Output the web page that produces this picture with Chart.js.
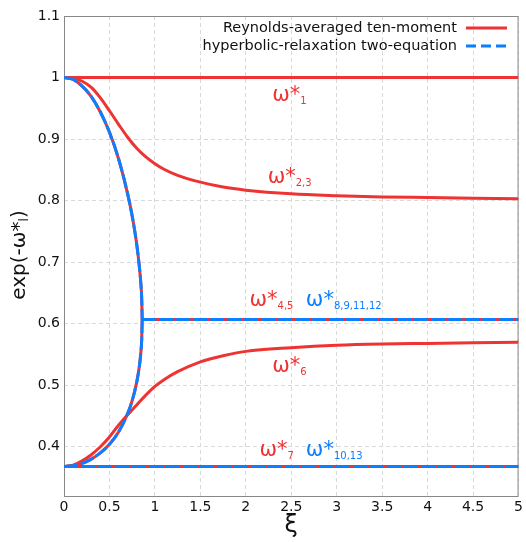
<!DOCTYPE html>
<html>
<head>
<meta charset="utf-8">
<script src="https://cdn.jsdelivr.net/npm/chart.js@4/dist/chart.umd.min.js"></script>
<style>
  html, body { margin: 0; padding: 0; background: #fff; }
  #wrap { width: 526px; height: 542px; }
</style>
</head>
<body>
<div id="wrap"><canvas id="modes" width="526" height="542"></canvas></div>
<script>
// axis ticks
const xTicks = [0, 0.5, 1, 1.5, 2, 2.5, 3, 3.5, 4, 4.5, 5];
const xTickLabels = ['0', '0.5', '1', '1.5', '2', '2.5', '3', '3.5', '4', '4.5', '5'];
const yTicks = [0.4, 0.5, 0.6, 0.7, 0.8, 0.9, 1.0, 1.1];
const yTickLabels = ['0.4', '0.5', '0.6', '0.7', '0.8', '0.9', '1', '1.1'];

// flat modes over the whole range
const xiFull = [0, 5];
const omega1 = [1, 1];
const omega7 = [0.368, 0.368];

// the pair that merges at the branch point
const xiBranch = [0, 0.1, 0.2, 0.3, 0.4, 0.5, 0.6, 0.7, 0.75, 0.8, 0.83, 0.845, 0.855, 0.86];
const upperBranch = [1, 0.997, 0.986, 0.969, 0.944, 0.911, 0.868, 0.811, 0.775, 0.729, 0.691, 0.666, 0.640, 0.607];
const lowerBranch = [0.368, 0.369, 0.373, 0.380, 0.390, 0.404, 0.424, 0.454, 0.475, 0.505, 0.532, 0.553, 0.575, 0.607];

// merged value past the branch point
const xiPlateau = [0.86, 5];
const omega45 = [0.607, 0.607];

// ω*2,3 decays, ω*6 rises
const xiSmooth = [0, 0.1, 0.2, 0.3, 0.4, 0.5, 0.6, 0.7, 0.8, 0.9, 1.0, 1.1, 1.25, 1.5, 1.75, 2, 2.5, 3, 3.5, 4, 4.5, 5];
const omega23 = [1, 0.999, 0.994, 0.984, 0.967, 0.946, 0.924, 0.903, 0.885, 0.871, 0.860, 0.851, 0.841, 0.830, 0.822, 0.817, 0.811, 0.808, 0.806, 0.805, 0.804, 0.803];
const omega6 = [0.368, 0.370, 0.377, 0.387, 0.400, 0.416, 0.435, 0.452, 0.468, 0.484, 0.498, 0.509, 0.522, 0.538, 0.548, 0.555, 0.561, 0.565, 0.567, 0.568, 0.569, 0.570];

const RED = '#ee3333';
const BLUE = '#0b7fff';
const FONT = "'DejaVu Sans', sans-serif";

// mode labels: left edge of ω and baseline, in data units
const notes = [
  { text: 'ω*', sub: '1', color: RED, x: 2.29, y: 0.962 },
  { text: 'ω*', sub: '2,3', color: RED, x: 2.24, y: 0.829 },
  { text: 'ω*', sub: '4,5', color: RED, x: 2.04, y: 0.628 },
  { text: 'ω*', sub: '8,9,11,12', color: BLUE, x: 2.66, y: 0.628 },
  { text: 'ω*', sub: '6', color: RED, x: 2.29, y: 0.521 },
  { text: 'ω*', sub: '7', color: RED, x: 2.15, y: 0.385 },
  { text: 'ω*', sub: '10,13', color: BLUE, x: 2.66, y: 0.385 }
];

function pts(xs, ys) {
  return xs.map(function (x, i) { return { x: x, y: ys[i] }; });
}

function red(xs, ys) {
  return { data: pts(xs, ys), borderColor: RED, borderWidth: 3, pointRadius: 0,
           cubicInterpolationMode: 'monotone', order: 2 };
}

function blue(xs, ys) {
  return { data: pts(xs, ys), borderColor: BLUE, borderWidth: 3, pointRadius: 0,
           borderDash: [14, 3], cubicInterpolationMode: 'monotone', order: 1 };
}

var decor = {
  id: 'decor',
  beforeDatasetsDraw: function (chart) {
    var a = chart.chartArea, ctx = chart.ctx;
    ctx.save();
    ctx.strokeStyle = '#888';
    ctx.lineWidth = 1;
    ctx.strokeRect(a.left + 0.5, a.top + 0.5, a.right - a.left - 1, a.bottom - a.top);
    ctx.restore();
  },
  afterDraw: function (chart) {
    var ctx = chart.ctx, xs = chart.scales.x, ys = chart.scales.y;
    ctx.save();

    // legend, text right-aligned with the sample to its right
    ctx.font = '14.5px ' + FONT;
    ctx.fillStyle = '#111';
    ctx.textAlign = 'right';
    ctx.textBaseline = 'middle';
    ctx.fillText('Reynolds-averaged ten-moment', 457, 28);
    ctx.fillText('hyperbolic-relaxation two-equation', 457, 46);
    ctx.lineWidth = 3;
    ctx.strokeStyle = RED;
    ctx.beginPath(); ctx.moveTo(466, 28); ctx.lineTo(507, 28); ctx.stroke();
    ctx.strokeStyle = BLUE;
    ctx.setLineDash([10, 5]);
    ctx.beginPath(); ctx.moveTo(466, 46); ctx.lineTo(507, 46); ctx.stroke();
    ctx.setLineDash([]);

    // mode labels
    ctx.textAlign = 'left';
    ctx.textBaseline = 'alphabetic';
    notes.forEach(function (n) {
      var px = xs.getPixelForValue(n.x), py = ys.getPixelForValue(n.y);
      ctx.fillStyle = n.color;
      ctx.font = '21px ' + FONT;
      ctx.fillText(n.text, px, py);
      var w = ctx.measureText(n.text).width;
      ctx.font = '10px ' + FONT;
      ctx.fillText(n.sub, px + w, py + 3);
    });

    // axis titles
    ctx.fillStyle = '#111';
    ctx.font = '24px ' + FONT;
    ctx.textAlign = 'center';
    ctx.textBaseline = 'middle';
    ctx.fillText('ξ', (chart.chartArea.left + chart.chartArea.right) / 2, 526);

    ctx.translate(18, 255);
    ctx.rotate(-Math.PI / 2);
    ctx.textBaseline = 'alphabetic';
    ctx.textAlign = 'left';
    ctx.font = '20px ' + FONT;
    var p1 = 'exp(-ω*', w1 = ctx.measureText(p1).width;
    ctx.font = '12px ' + FONT;
    var w2 = ctx.measureText('l').width;
    ctx.font = '20px ' + FONT;
    var w3 = ctx.measureText(')').width;
    var x0 = -(w1 + w2 + w3) / 2;
    ctx.fillText(p1, x0, 7);
    ctx.font = '12px ' + FONT;
    ctx.fillText('l', x0 + w1, 10);
    ctx.font = '20px ' + FONT;
    ctx.fillText(')', x0 + w1 + w2, 7);
    ctx.restore();
  }
};

var ctx = document.getElementById('modes').getContext('2d');
var chart = new Chart(ctx, {
  type: 'line',
  data: {
    datasets: [
      red(xiFull, omega1),
      red(xiSmooth, omega23),
      red(xiBranch, upperBranch),
      red(xiBranch, lowerBranch),
      red(xiPlateau, omega45),
      red(xiSmooth, omega6),
      red(xiFull, omega7),
      blue(xiBranch, upperBranch),
      blue(xiBranch, lowerBranch),
      blue(xiPlateau, omega45),
      blue(xiFull, omega7)
    ]
  },
  options: {
    responsive: false,
    animation: false,
    devicePixelRatio: 1,
    layout: { padding: { top: 16, right: 6, left: 0, bottom: 0 } },
    plugins: { legend: { display: false }, tooltip: { enabled: false } },
    scales: {
      x: {
        type: 'linear', min: 0, max: 5,
        afterBuildTicks: function (axis) { axis.ticks = xTicks.map(function (v) { return { value: v }; }); },
        afterFit: function (axis) { axis.height = 46; },
        grid: { color: '#d9d9d9', lineWidth: 1, drawTicks: false },
        border: { display: false, dash: [4, 3] },
        ticks: {
          padding: 3, color: '#111', maxRotation: 0,
          font: { family: FONT, size: 14 },
          callback: function (v, i) { return xTickLabels[i]; }
        }
      },
      y: {
        type: 'linear', min: 0.32, max: 1.1,
        afterBuildTicks: function (axis) { axis.ticks = yTicks.map(function (v) { return { value: v }; }); },
        afterFit: function (axis) { axis.width = 64; },
        grid: { color: '#d9d9d9', lineWidth: 1, drawTicks: false },
        border: { display: false, dash: [4, 3] },
        ticks: {
          padding: 4, color: '#111',
          font: { family: FONT, size: 14 },
          callback: function (v, i) { return yTickLabels[i]; }
        }
      }
    }
  },
  plugins: [decor]
});
</script>
</body>
</html>
